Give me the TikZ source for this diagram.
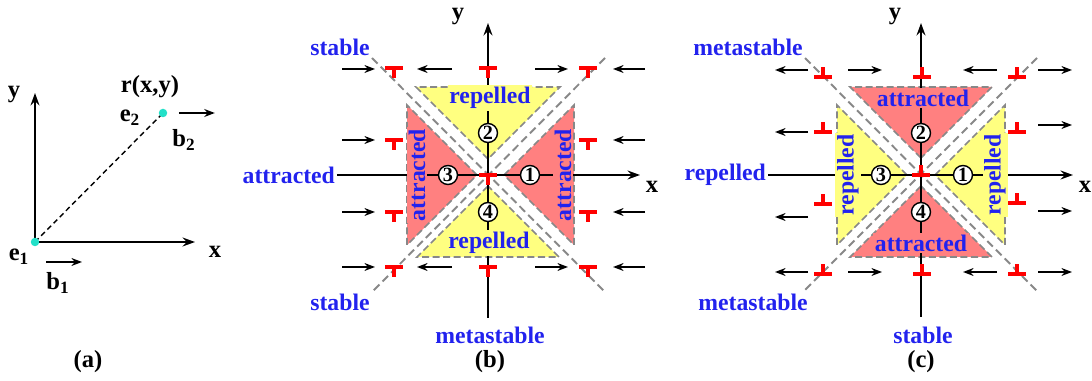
\documentclass[tikz,border=0pt]{standalone}
\usepackage{fontspec}
\setmainfont{Liberation Serif}
\usetikzlibrary{arrows.meta}

\definecolor{FieldBlue}{HTML}{2222EE}
\definecolor{ZoneRed}{HTML}{FF8080}
\definecolor{ZoneYellow}{HTML}{FFFF80}
\definecolor{GuideGray}{HTML}{888888}
\definecolor{CoreCyan}{HTML}{22E0C8}
\definecolor{MarkRed}{HTML}{FF0000}

\tikzset{
  axis/.style={line width=1.2pt,-{Stealth[length=7pt,width=5pt]}},
  flow/.style={line width=1pt,-{Stealth[length=6pt,width=4.5pt]}},
  guide/.style={GuideGray,line width=1.1pt,dash pattern=on 4.5pt off 2.5pt},
  zone/.style={draw=GuideGray,line width=0.9pt,dash pattern=on 4pt off 2pt},
  tag/.style={FieldBlue,font=\fontsize{13.5}{14}\selectfont\bfseries,inner sep=1pt},
  caption/.style={font=\fontsize{14}{15}\selectfont\bfseries,inner sep=1pt},
  num/.style={circle,draw,line width=0.8pt,fill=white,inner sep=0pt,
    minimum size=0.38cm,font=\fontsize{11.5}{12}\selectfont\bfseries},
  core/.style={circle,fill=CoreCyan,inner sep=0pt,minimum size=0.17cm},
  disloc/.pic={\draw[MarkRed,line width=1.8pt] (-9,0) -- (9,0) (0,0) -- (0,-10);}
}

\begin{document}
\begin{tikzpicture}[x=0.02cm,y=0.02cm]
  \useasboundingbox (0,0) rectangle (1092,-381);

  % (a) two cores
  \coordinate (origin) at (35,-242);
  \coordinate (tip) at (163,-113);
  \coordinate (ytop) at (35,-93);
  \coordinate (xend) at (195,-242);
  \draw[axis] (origin) -- (ytop);
  \draw[axis] (origin) -- (xend);
  \draw[line width=0.8pt,densely dashed] (origin) -- (tip);
  \node[core] (e1) at (origin) {};
  \node[core] (e2) at (tip) {};
  \draw[flow] ([xshift=9]e2.center) -- ++(36,0) coordinate (b2tip);
  \draw[flow] (46,-262) -- (82,-262);
  \node[caption] at (14,-95) {y};
  \node[caption] at (215,-252) {x};
  \node[caption] at (150,-87) {r(x,y)};
  \node[caption] at (130,-118) {e\textsubscript{2}};
  \node[caption] at (184,-140) {b\textsubscript{2}};
  \node[caption] at (19,-257) {e\textsubscript{1}};
  \node[caption] at (58,-283) {b\textsubscript{1}};
  \node[caption] at (88,-362) {(a)};

  % (b) T marks
  \begin{scope}[shift={(488,-175)}]
    \filldraw[zone,fill=ZoneYellow] (0,16) -- (-72,88) -- (72,88) -- cycle;
    \filldraw[zone,fill=ZoneYellow] (0,-11) -- (-71,-82) -- (71,-82) -- cycle;
    \filldraw[zone,fill=ZoneRed] (-11,0) -- (-81,70) -- (-81,-70) -- cycle;
    \filldraw[zone,fill=ZoneRed] (16,0) -- (86,70) -- (86,-70) -- cycle;
    \draw[guide] (-116,117) -- (117,-117);
    \draw[guide] (117,117) -- (-116,-117);
    \draw[axis] (-151,0) -- (152,0);
    \draw[axis] (0,-143) -- (0,152);
    \node[tag,fill=ZoneYellow] at (2,77) {repelled};
    \node[tag,fill=ZoneYellow] at (1,-68) {repelled};
    \node[tag,fill=ZoneRed,rotate=90] at (-71,0) {attracted};
    \node[tag,fill=ZoneRed,rotate=90] at (75,0) {attracted};
    \node[num] (b1) at (42,0) {1};
    \node[num] (b2) at (0,42) {2};
    \node[num] (b3) at (-40,0) {3};
    \node[num] (b4) at (0,-37) {4};
    \foreach \yy in {106,35,-37,-92} {
      \draw[flow] (-146,\yy) -- (-113,\yy);
      \draw[flow] (157,\yy) -- (125,\yy);
    }
    \foreach \yy in {106,-92} {
      \draw[flow] (-36,\yy) -- (-71,\yy);
      \draw[flow] (47,\yy) -- (80,\yy);
    }
    \foreach \xx/\yy in {-94/107,0/107,100/107,-94/35,100/35,0/0,
                         -94/-37,100/-37,-94/-92,0/-92,100/-92}
      \pic at (\xx,\yy) {disloc};
    \node[caption] at (-30,158) {y};
    \node[caption] at (164,-12) {x};
    \node[tag] at (-148,128) {stable};
    \node[tag,anchor=east] at (-151,0) {attracted};
    \node[tag] at (-148,-127) {stable};
    \node[tag] at (2,-160) {metastable};
    \node[caption] at (2,-187) {(b)};
  \end{scope}

  % (c) inverted marks
  \begin{scope}[shift={(921,-175)}]
    \filldraw[zone,fill=ZoneRed] (0,17) -- (-71,88) -- (71,88) -- cycle;
    \filldraw[zone,fill=ZoneRed] (0,-11) -- (-71,-82) -- (71,-82) -- cycle;
    \filldraw[zone,fill=ZoneYellow] (-14,0) -- (-84,70) -- (-84,-70) -- cycle;
    \filldraw[zone,fill=ZoneYellow] (14,0) -- (84,70) -- (84,-70) -- cycle;
    \draw[guide] (-116,117) -- (117,-117);
    \draw[guide] (116,117) -- (-118,-117);
    \draw[axis] (-153,0) -- (152,0);
    \draw[axis] (0,-142) -- (0,152);
    \node[tag,fill=ZoneRed] at (2,77) {attracted};
    \node[tag,fill=ZoneRed] at (0,-68) {attracted};
    \node[tag,fill=ZoneYellow,rotate=90] at (-73,0) {repelled};
    \node[tag,fill=ZoneYellow,rotate=90] at (74,0) {repelled};
    \node[num] (c1) at (42,0) {1};
    \node[num] (c2) at (0,42) {2};
    \node[num] (c3) at (-40,0) {3};
    \node[num] (c4) at (0,-37) {4};
    \foreach \yy in {105,-97} {
      \draw[flow] (-113,\yy) -- (-146,\yy);
      \draw[flow] (-73,\yy) -- (-39,\yy);
      \draw[flow] (76,\yy) -- (42,\yy);
      \draw[flow] (117,\yy) -- (151,\yy);
    }
    \draw[flow] (-113,43) -- (-146,43);
    \draw[flow] (-113,-42) -- (-146,-42);
    \draw[flow] (117,50) -- (151,50);
    \draw[flow] (117,-36) -- (151,-36);
    \foreach \xx/\yy in {-98/98,1/98,96/98,-98/43,96/43,0/0,
                         -98/-29,96/-28,-98/-99,1/-99,96/-99}
      \pic[yscale=-1] at (\xx,\yy) {disloc};
    \node[caption] at (-26,158) {y};
    \node[caption] at (164,-12) {x};
    \node[tag] at (-173,128) {metastable};
    \node[tag,anchor=east] at (-153,0) {repelled};
    \node[tag] at (-168,-127) {metastable};
    \node[tag] at (2,-160) {stable};
    \node[caption] at (0,-187) {(c)};
  \end{scope}
\end{tikzpicture}
\end{document}
